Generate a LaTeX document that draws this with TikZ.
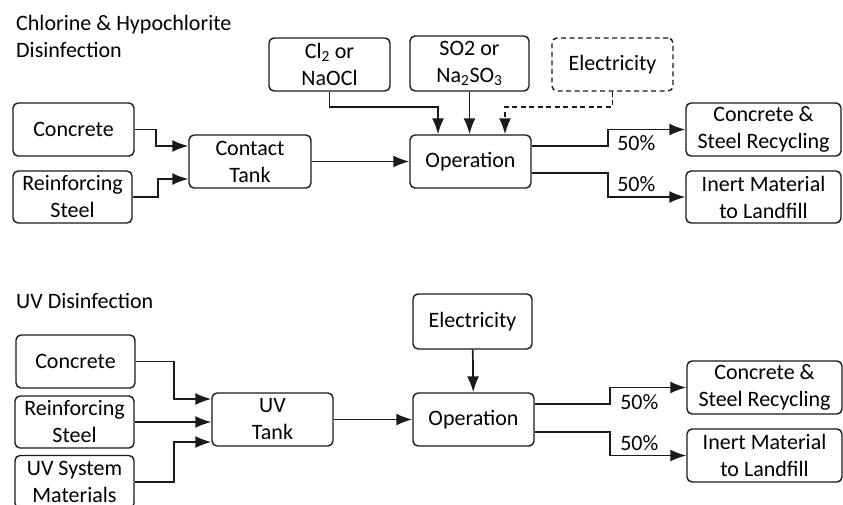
\documentclass[tikz,border=0pt]{standalone}
\usepackage{fontspec}
\setmainfont{Carlito}
\usepackage{tikz}
\usetikzlibrary{arrows.meta,positioning,calc}
\definecolor{flLine}{HTML}{1A1A1A}
\tikzset{
  arr/.style={-{Latex[length=16pt,width=12pt]}, line width=1.7pt, draw=flLine},
  arrd/.style={arr, dash pattern=on 5pt off 3.5pt},
  procbox/.style={rounded corners=5pt, draw=flLine, fill=white, line width=1.4pt, align=center, inner sep=2pt, font=\fontsize{22}{27}\selectfont},
  dashbox/.style={procbox, dash pattern=on 5pt off 3.5pt},
  pct/.style={inner sep=0pt, font=\fontsize{22}{27}\selectfont},
  title/.style={inner sep=0pt, align=left, anchor=north west, font=\fontsize{22}{27}\selectfont}
}
\begin{document}
\begin{tikzpicture}[x=1pt,y=-1pt]
  \useasboundingbox (0,0) rectangle (843,504);
  \clip (0,0) rectangle (843,504);
  % chlorine & hypochlorite
  \node[title] (t1) at (16,15) {Chlorine \& Hypochlorite\\Disinfection};
  \node[procbox, minimum width=121pt, minimum height=53pt] (conc1) at (73.5,129.5) {Concrete};
  \node[procbox, minimum width=119pt, minimum height=52pt] (steel1) at (72.5,197) {Reinforcing\\Steel};
  \node[procbox, minimum width=122pt, minimum height=53pt] (tank1) at (250,161.5) {Contact\\Tank};
  \node[procbox, minimum width=121pt, minimum height=53pt] (cl) at (329.5,64.5) {Cl\textsubscript{2} or\\NaOCl};
  \node[procbox, minimum width=119pt, minimum height=55pt] (so) at (469.5,63.5) {SO2 or\\Na\textsubscript{2}SO\textsubscript{3}};
  \node[dashbox, minimum width=121pt, minimum height=53pt] (elec1) at (612.5,64.5) {Electricity};
  \node[procbox, minimum width=121pt, minimum height=53pt] (op1) at (470.5,161.5) {Operation};
  \node[procbox, minimum width=155pt, minimum height=53pt] (rec1) at (763.5,129.5) {Concrete \&\\Steel Recycling};
  \node[procbox, minimum width=155pt, minimum height=52pt] (land1) at (763.5,197) {Inert Material\\to Landfill};
  \draw[arr] (conc1.east) -- ++(21,0) |- ([yshift=15.5pt]tank1.west);
  \draw[arr] (steel1.east) -- ++(25,0) |- ([yshift=-17.5pt]tank1.west);
  \draw[arr] (tank1) -- (op1);
  \draw[arr] (cl.south) -- ++(0,15) -| ([xshift=-32.5pt]op1.north);
  \draw[arr] (so) -- (so |- op1.north);
  \draw[arrd] (elec1.south) -- ++(0,15) -| ([xshift=34.5pt]op1.north);
  \draw[arr] ([yshift=15.5pt]op1.east) -| ([xshift=-77pt]rec1.west)
    node[pct, xshift=28pt, yshift=-13.5pt] {50\%} -- (rec1.west);
  \draw[arr] ([yshift=-11.5pt]op1.east) -| ([xshift=-77pt]land1.west)
    node[pct, xshift=28pt, yshift=13pt] {50\%} -- (land1.west);
  % uv
  \node[title] (t2) at (16,293) {UV Disinfection};
  \node[procbox, minimum width=119pt, minimum height=53pt] (conc2) at (75.5,361.5) {Concrete};
  \node[procbox, minimum width=119pt, minimum height=52pt] (steel2) at (74.5,422) {Reinforcing\\Steel};
  \node[procbox, minimum width=119pt, minimum height=53pt] (uvmat) at (74.5,482) {UV System\\Materials};
  \node[procbox, minimum width=121pt, minimum height=53pt] (tank2) at (272.5,419.5) {UV\\Tank};
  \node[procbox, minimum width=119pt, minimum height=55pt] (elec2) at (472.5,321.5) {Electricity};
  \node[procbox, minimum width=121pt, minimum height=53pt] (op2) at (473.5,419.5) {Operation};
  \node[procbox, minimum width=155pt, minimum height=53pt] (rec2) at (764.5,387.5) {Concrete \&\\Steel Recycling};
  \node[procbox, minimum width=155pt, minimum height=53pt] (land2) at (764.5,455.5) {Inert Material\\to Landfill};
  \draw[arr] (conc2.east) -- ++(38,0) |- ([yshift=20.5pt]tank2.west);
  \draw[arr] (steel2.east) -- (steel2.east -| tank2.west);
  \draw[arr] (uvmat.east) -- ++(39,0) |- ([yshift=-22.5pt]tank2.west);
  \draw[arr] (tank2) -- (op2);
  \draw[arr] (elec2) -- (op2);
  \draw[arr] ([yshift=15.5pt]op2.east) -| ([xshift=-76pt]rec2.west)
    node[pct, xshift=29pt, yshift=-14.5pt] {50\%} -- (rec2.west);
  \draw[arr] ([yshift=-12.5pt]op2.east) -| ([xshift=-76pt]land2.west)
    node[pct, xshift=29pt, yshift=12.5pt] {50\%} -- (land2.west);
\end{tikzpicture}
\end{document}
